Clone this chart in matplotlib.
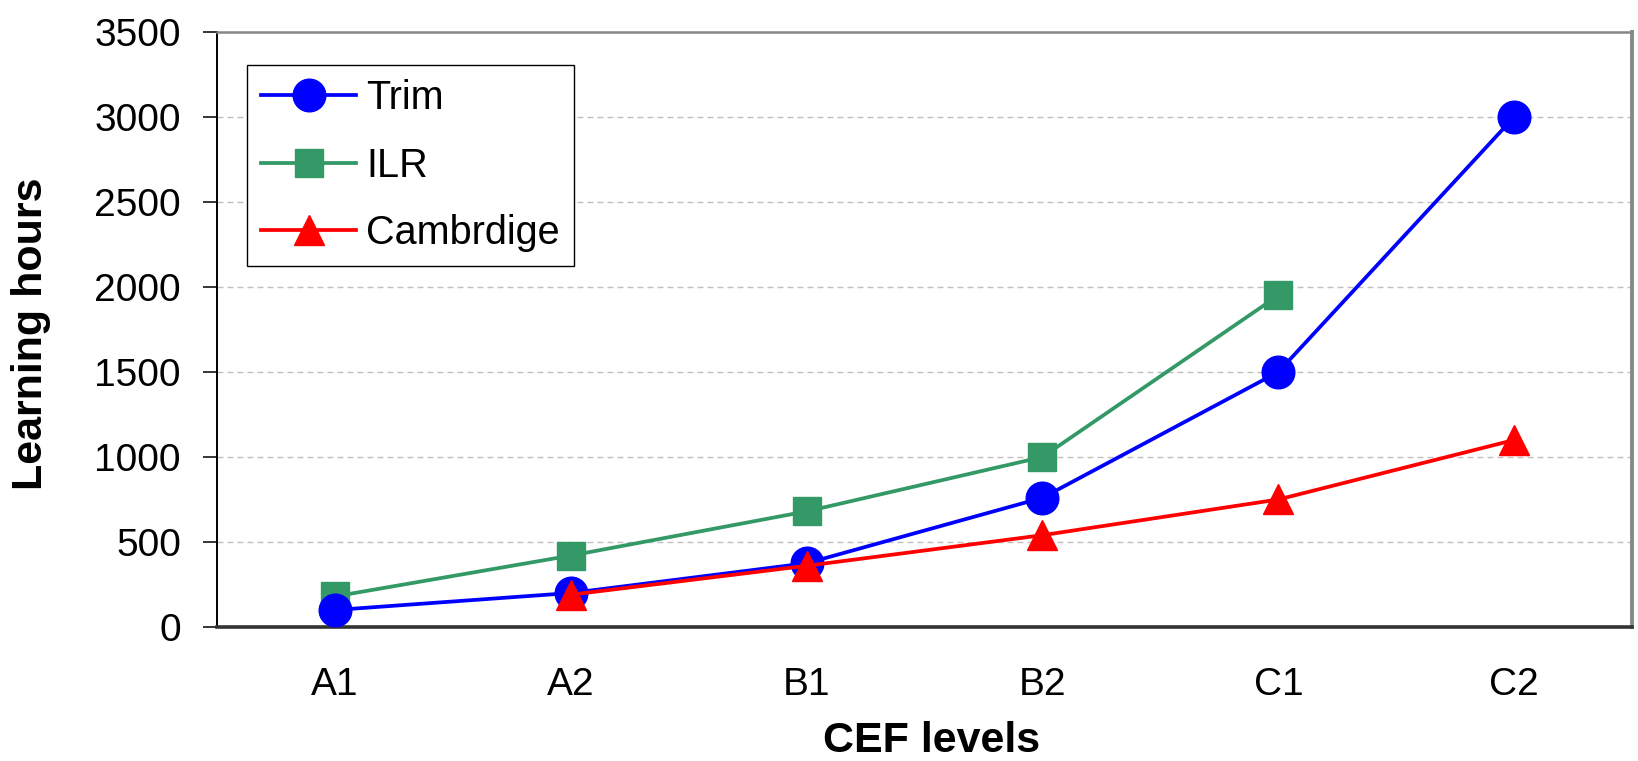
import matplotlib
matplotlib.use("Agg")
import matplotlib.pyplot as plt

plt.rcParams['font.family'] = ['Liberation Sans', 'DejaVu Sans']

levels = ["A1", "A2", "B1", "B2", "C1", "C2"]
trim = [100, 200, 375, 760, 1500, 3000]
ilr = [180, 420, 680, 1000, 1950]
cambridge = [190, 360, 540, 750, 1100]
y_ticks = [0, 500, 1000, 1500, 2000, 2500, 3000, 3500]

x = list(range(len(levels)))

fig = plt.figure(figsize=(16.38, 7.61), dpi=100)
ax = fig.add_axes([0.1325, 0.1761, 0.8639, 0.7819])

ax.plot(x, trim, color="#0000FF", lw=2.7, marker="o", ms=23.5, label="Trim", zorder=3)
ax.plot(x[:5], ilr, color="#339966", lw=2.7, marker="s", ms=19.5, label="ILR", zorder=2)
ax.plot(x[1:], cambridge, color="#FF0000", lw=2.7, marker="^", ms=22, label="Cambrdige", zorder=4)

ax.set_xlim(-0.5, 5.5)
ax.set_ylim(0, 3500)
ax.set_yticks(y_ticks)
ax.set_xticks(x)
ax.set_xticklabels(levels)

ax.yaxis.grid(True, color="#c0c0c0", lw=1.0, dashes=(4.3, 2.9))
ax.set_axisbelow(True)

ax.tick_params(axis="y", direction="out", length=10, width=1.1, pad=16, labelsize=28)
ax.tick_params(axis="x", length=0, pad=29, labelsize=28)

ax.spines["left"].set_color("black")
ax.spines["left"].set_linewidth(1.4)
ax.spines["top"].set_color("#888888")
ax.spines["top"].set_linewidth(1.8)
ax.spines["right"].set_color("#888888")
ax.spines["right"].set_linewidth(2.8)
ax.spines["bottom"].set_color("#333333")
ax.spines["bottom"].set_linewidth(2.6)

ax.set_xlabel("CEF levels", fontsize=31, fontweight="bold")
ax.set_ylabel("Learning hours", fontsize=31, fontweight="bold")
ax.xaxis.set_label_coords(0.505, -0.158)
ax.yaxis.set_label_coords(-0.117, 0.492)

leg = ax.legend(loc="upper left", bbox_to_anchor=(0.0212, 0.9445), borderaxespad=0,
                fontsize=28.5, handlelength=2.4, handletextpad=0.25, labelspacing=0.74,
                borderpad=0.36, fancybox=False, framealpha=1, edgecolor="black")
leg.get_frame().set_linewidth(1.0)

fig.savefig("out.png", dpi=100)
